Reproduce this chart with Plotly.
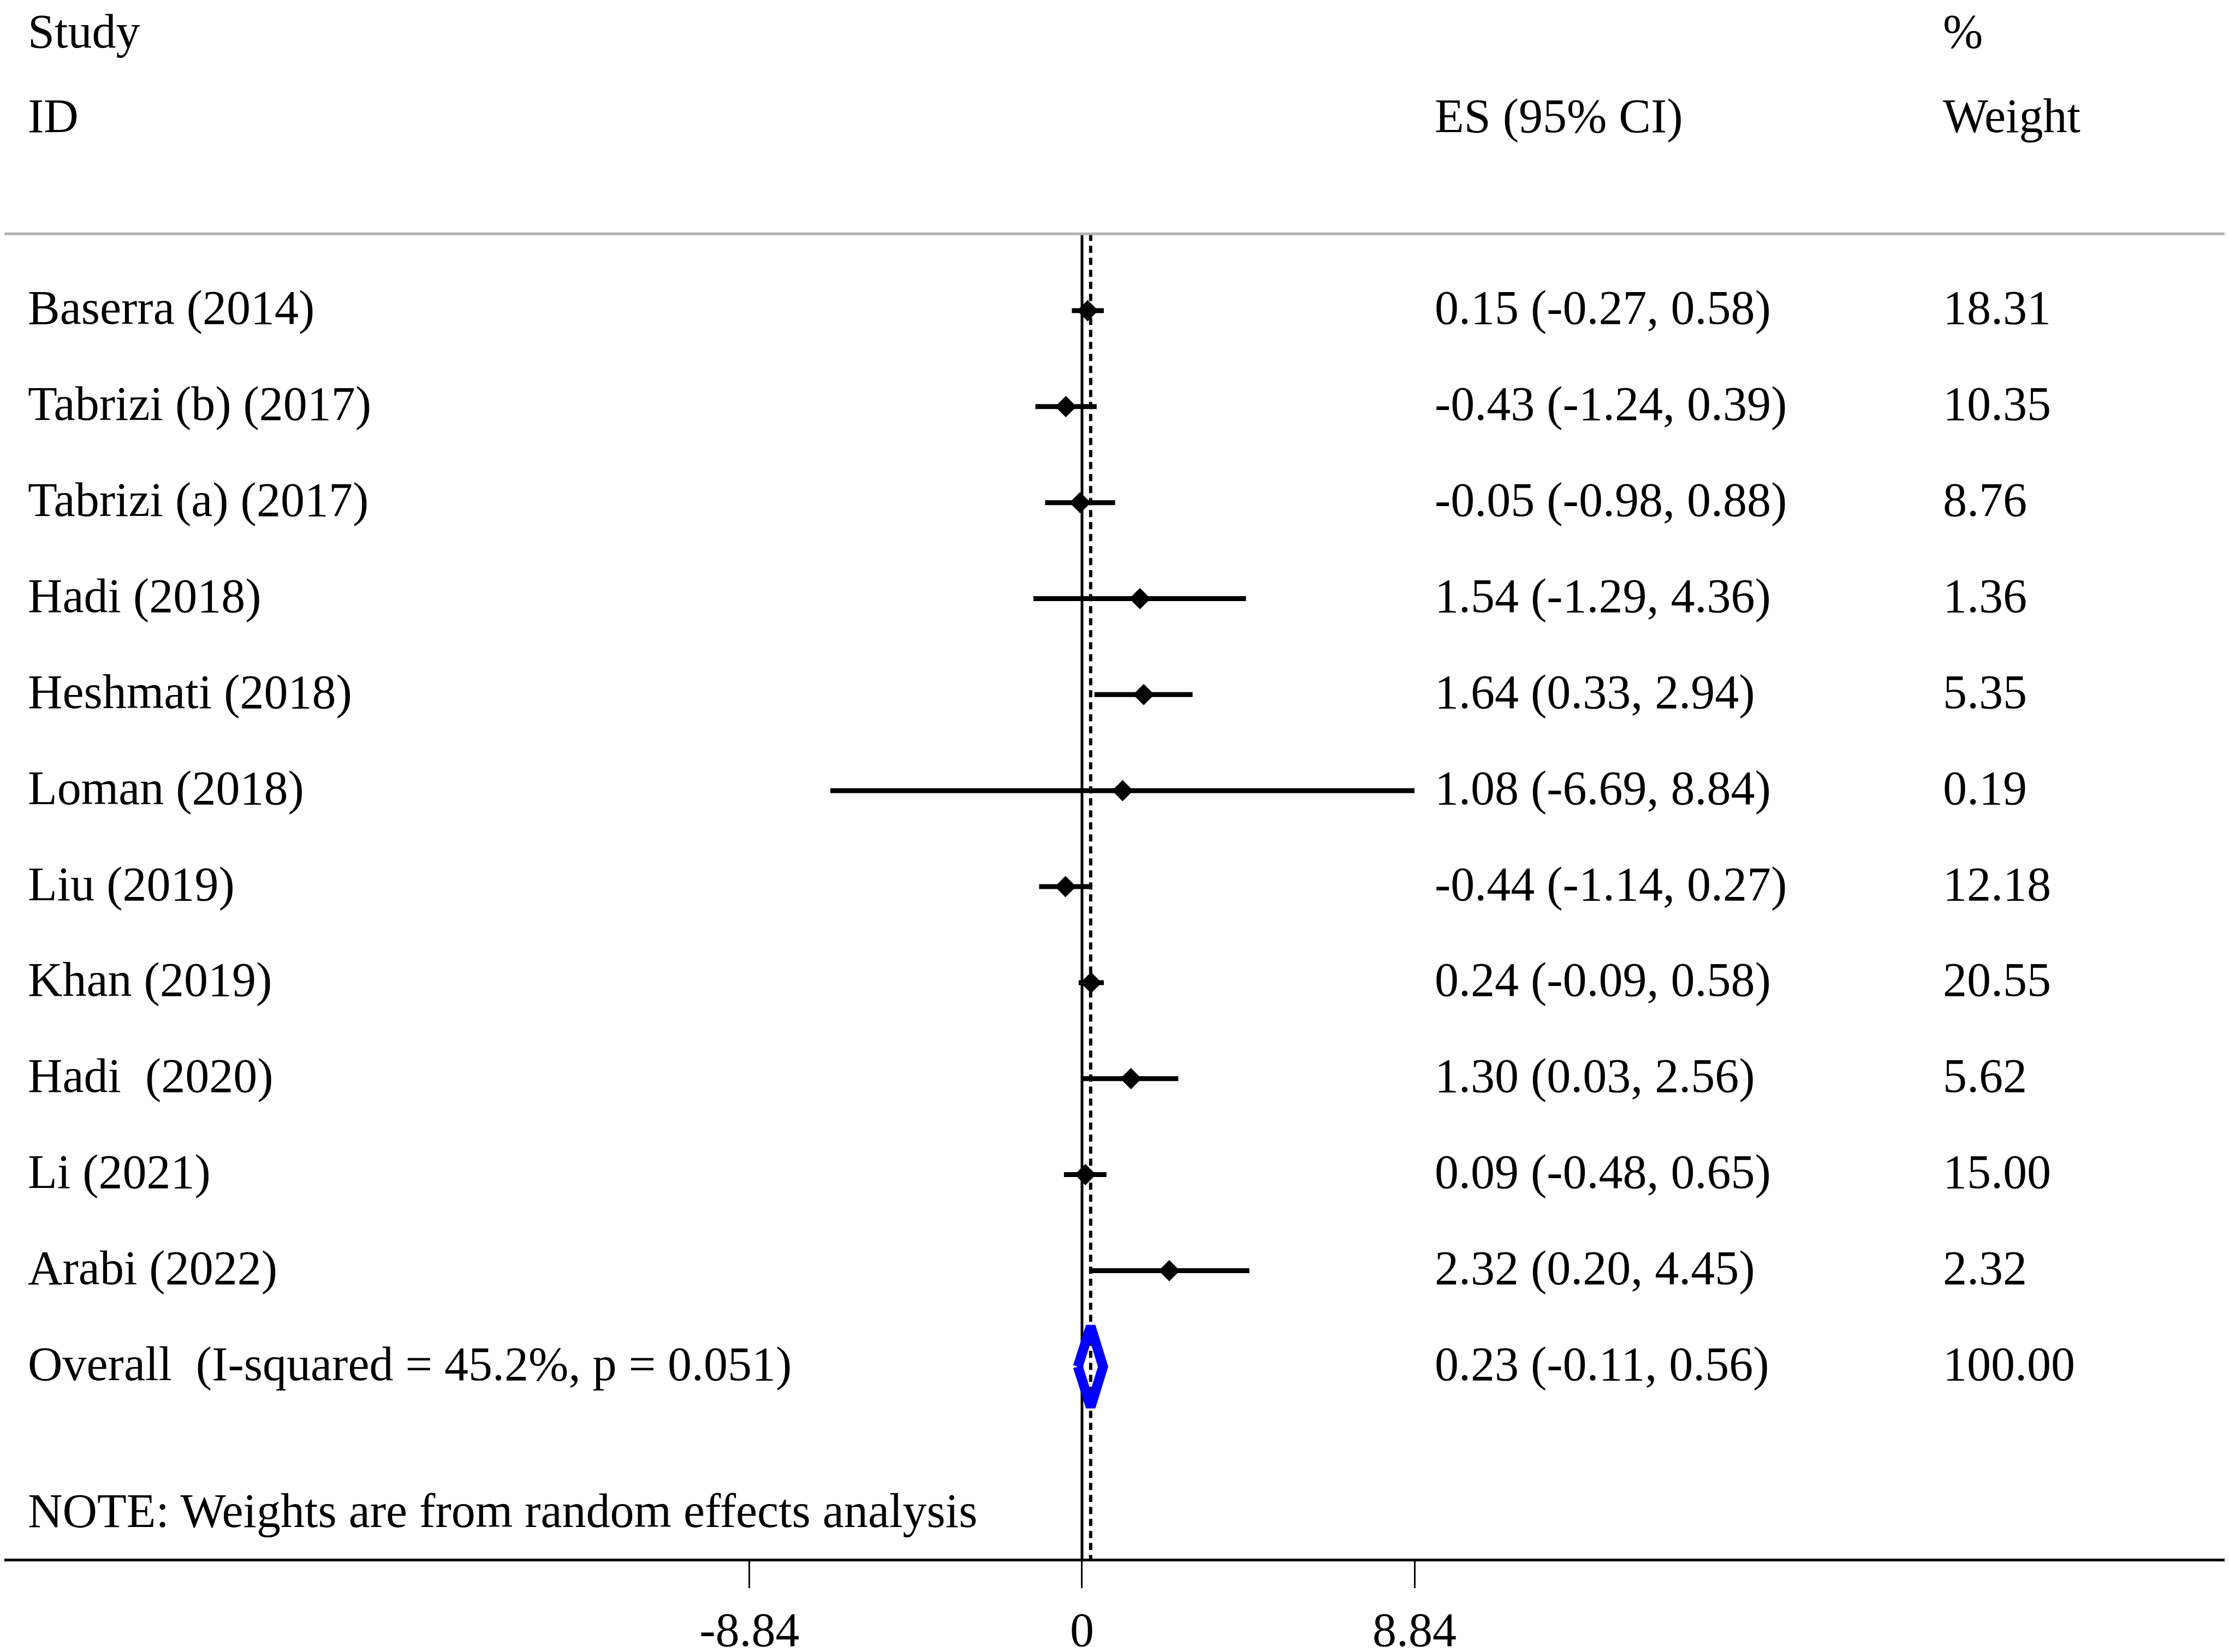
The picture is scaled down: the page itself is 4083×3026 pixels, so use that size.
import plotly.graph_objects as go

# study data
studies = ["Baserra (2014)", "Tabrizi (b) (2017)", "Tabrizi (a) (2017)", "Hadi (2018)",
           "Heshmati (2018)", "Loman (2018)", "Liu (2019)", "Khan (2019)",
           "Hadi\u00a0 (2020)", "Li (2021)", "Arabi (2022)"]
es = [0.15, -0.43, -0.05, 1.54, 1.64, 1.08, -0.44, 0.24, 1.30, 0.09, 2.32]
ci_low = [-0.27, -1.24, -0.98, -1.29, 0.33, -6.69, -1.14, -0.09, 0.03, -0.48, 0.20]
ci_high = [0.58, 0.39, 0.88, 4.36, 2.94, 8.84, 0.27, 0.58, 2.56, 0.65, 4.45]
weights = [18.31, 10.35, 8.76, 1.36, 5.35, 0.19, 12.18, 20.55, 5.62, 15.00, 2.32]

overall_es = 0.23
overall_low = -0.11
overall_high = 0.56
i_squared = 45.2
p_value = 0.051

tick_vals = [-8.84, 0, 8.84]
tick_text = ["-8.84", "0", "8.84"]

FONT = "Liberation Serif"
FS = 88

rows = list(range(1, len(studies) + 1))
overall_row = len(studies) + 1

fig = go.Figure()

# confidence interval lines
cx, cy = [], []
for lo, hi, r in zip(ci_low, ci_high, rows):
    cx += [lo, hi, None]
    cy += [r, r, None]
fig.add_trace(go.Scatter(x=cx, y=cy, mode="lines", line=dict(color="black", width=9),
                         hoverinfo="skip"))

# point estimates
fig.add_trace(go.Scatter(x=es, y=rows, mode="markers",
                         marker=dict(symbol="diamond", size=30, color="black"),
                         text=studies, hoverinfo="x+text"))

# overall diamond
h = 0.42
fig.add_trace(go.Scatter(
    x=[overall_low, overall_es, overall_high, overall_es, overall_low],
    y=[overall_row, overall_row - h, overall_row, overall_row + h, overall_row],
    mode="lines", line=dict(color="#0000ff", width=18), hoverinfo="skip"))

top_line = 0.2
bottom = 14.0

# null line and overall-effect dashed line
fig.add_shape(type="line", xref="x", yref="y", x0=0, x1=0, y0=top_line, y1=bottom,
              line=dict(color="black", width=5), layer="below")
fig.add_shape(type="line", xref="x", yref="y", x0=overall_es, x1=overall_es,
              y0=top_line, y1=bottom,
              line=dict(color="black", width=6, dash="13px,9px"), layer="below")
# header separator
fig.add_shape(type="line", xref="paper", yref="y", x0=-0.01, x1=1.01, y0=top_line, y1=top_line,
              line=dict(color="#b4b4b4", width=5))

col_study = 0.0102
col_es = 0.6415
col_w = 0.8695


def txt(x, y, s, anchor="middle"):
    fig.add_annotation(x=x, y=y, xref="paper", yref="y", text=s, showarrow=False,
                       xanchor="left", yanchor=anchor, yshift=5 if anchor == "middle" else 0,
                       borderpad=0,
                       font=dict(family=FONT, size=FS, color="black"))


txt(col_study, -2.19, "Study", "top")
txt(col_study, -1, "ID")
txt(col_es, -1, "ES (95% CI)")
txt(col_w, -2.19, "%", "top")
txt(col_w, -1, "Weight")

for r, name, e, lo, hi, w in zip(rows, studies, es, ci_low, ci_high, weights):
    txt(col_study, r, name)
    txt(col_es, r, f"{e:.2f} ({lo:.2f}, {hi:.2f})")
    txt(col_w, r, f"{w:.2f}")

txt(col_study, overall_row, f"Overall\u00a0 (I-squared = {i_squared:.1f}%, p = {p_value:.3f})")
txt(col_es, overall_row, f"{overall_es:.2f} ({overall_low:.2f}, {overall_high:.2f})")
txt(col_w, overall_row, "100.00")
txt(col_study, overall_row + 1.53, "NOTE: Weights are from random effects analysis")

fig.update_layout(
    width=4083, height=3026,
    margin=dict(l=0, r=0, t=0, b=163),
    paper_bgcolor="white", plot_bgcolor="white",
    showlegend=False,
    xaxis=dict(range=[-28.65, 30.61], showgrid=False, zeroline=False,
               showline=True, linecolor="black", linewidth=5,
               ticks="outside", ticklen=49, tickwidth=3, tickcolor="black",
               tickvals=tick_vals, ticktext=tick_text,
               tickfont=dict(family=FONT, size=FS, color="black")),
    yaxis=dict(range=[bottom, -2.19], showgrid=False, zeroline=False,
               showticklabels=False, showline=False),
)

fig.write_html("out.html")
